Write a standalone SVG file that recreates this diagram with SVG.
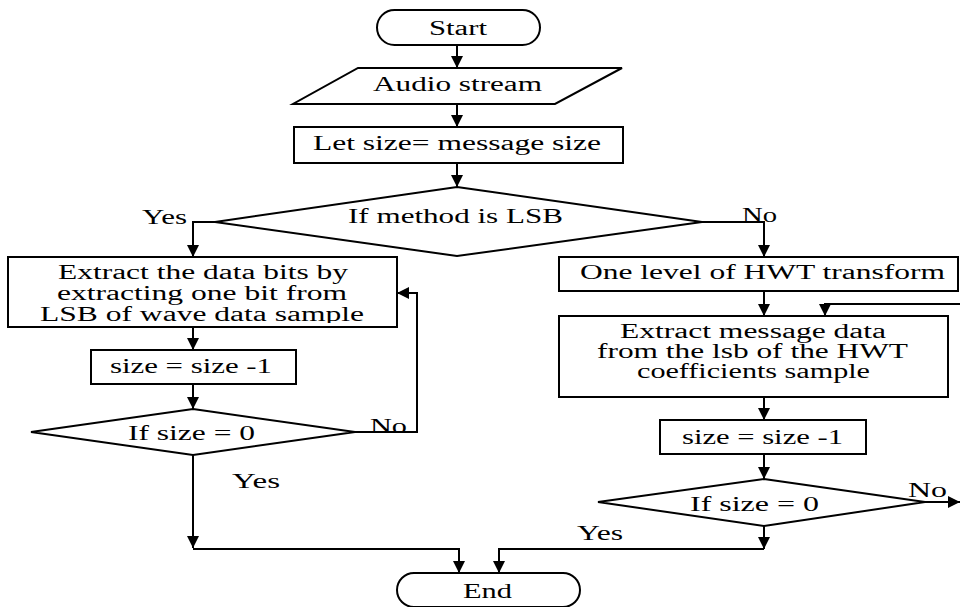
<svg xmlns="http://www.w3.org/2000/svg" width="960" height="607" viewBox="0 0 960 607">
<style>
.s{fill:#fff;stroke:#000;stroke-width:2}
.c{fill:none;stroke:#000;stroke-width:2}
.t{font-family:"Liberation Serif","Times New Roman",serif;font-size:20px;fill:#000}
</style>
<defs>
<marker id="ah" markerUnits="userSpaceOnUse" markerWidth="12" markerHeight="12" viewBox="0 0 10 10" refX="10" refY="5" orient="auto">
<path d="M0,0 L10,5 L0,10 z" fill="#000"/>
</marker>
<clipPath id="clipL"><rect x="0" y="250" width="400" height="73"/></clipPath>
</defs>
<rect width="960" height="607" fill="#fff"/>
<g id="connectors">
<path class="c" d="M457,45 L457,68" marker-end="url(#ah)"/>
<path class="c" d="M457,104 L457,127" marker-end="url(#ah)"/>
<path class="c" d="M457,163 L457,187" marker-end="url(#ah)"/>
<path class="c" d="M215,222 L193,222 L193,257" marker-end="url(#ah)"/>
<path class="c" d="M702,222 L764,222 L764,257" marker-end="url(#ah)"/>
<path class="c" d="M193,327 L193,350" marker-end="url(#ah)"/>
<path class="c" d="M193,384 L193,409" marker-end="url(#ah)"/>
<path class="c" d="M355,432 L417,432 L417,293 L397,293" marker-end="url(#ah)"/>
<path class="c" d="M193,455 L193,548" marker-end="url(#ah)"/>
<path class="c" d="M193,549 L459,549 L459,573" marker-end="url(#ah)"/>
<path class="c" d="M764,291 L764,316" marker-end="url(#ah)"/>
<path class="c" d="M960,304 L825,304 L825,316" marker-end="url(#ah)"/>
<path class="c" d="M764,397 L764,420" marker-end="url(#ah)"/>
<path class="c" d="M764,454 L764,479" marker-end="url(#ah)"/>
<path class="c" d="M925,502 L960,502" marker-end="url(#ah)"/>
<path class="c" d="M764,526 L764,549" marker-end="url(#ah)"/>
<path class="c" d="M764,549 L499,549 L499,573" marker-end="url(#ah)"/>
<text class="t" x="142" y="224" textLength="45" lengthAdjust="spacingAndGlyphs">Yes</text>
<text class="t" x="742" y="222" textLength="35" lengthAdjust="spacingAndGlyphs">No</text>
<text class="t" x="370" y="433" textLength="37" lengthAdjust="spacingAndGlyphs">No</text>
<text class="t" x="232" y="488" textLength="48" lengthAdjust="spacingAndGlyphs">Yes</text>
<text class="t" x="908" y="497" textLength="39" lengthAdjust="spacingAndGlyphs">No</text>
<text class="t" x="577" y="540" textLength="46" lengthAdjust="spacingAndGlyphs">Yes</text>
</g>
<g id="start">
<rect class="s" x="377" y="10" width="163" height="35" rx="17.5" ry="17.5"/>
<text class="t" x="429" y="35" textLength="58" lengthAdjust="spacingAndGlyphs">Start</text>
</g>
<g id="audio">
<polygon class="s" points="358,68 622,68 555,104 293,104"/>
<text class="t" x="373" y="91" textLength="169" lengthAdjust="spacingAndGlyphs">Audio stream</text>
</g>
<g id="letsize">
<rect class="s" x="294" y="127" width="329" height="36"/>
<text class="t" x="313" y="150" textLength="288" lengthAdjust="spacingAndGlyphs">Let size= message size</text>
</g>
<g id="method">
<polygon class="s" points="457,187 702,222 457,256 215,222"/>
<text class="t" x="348" y="223" textLength="215" lengthAdjust="spacingAndGlyphs">If method is LSB</text>
</g>
<g id="extractLSB">
<rect class="s" x="8" y="257" width="389" height="70"/>
<text class="t" x="58" y="279" textLength="290" lengthAdjust="spacingAndGlyphs">Extract the data bits by</text>
<text class="t" x="57" y="300" textLength="290" lengthAdjust="spacingAndGlyphs">extracting one bit from</text>
<text class="t" x="40" y="321" textLength="324" lengthAdjust="spacingAndGlyphs" clip-path="url(#clipL)">LSB of wave data sample</text>
</g>
<g id="dec1">
<rect class="s" x="91" y="350" width="205" height="34"/>
<text class="t" x="110" y="373" textLength="162" lengthAdjust="spacingAndGlyphs">size = size -1</text>
</g>
<g id="check1">
<polygon class="s" points="193,409 355,432 193,455 31,432"/>
<text class="t" x="128" y="440" textLength="127" lengthAdjust="spacingAndGlyphs">If size = 0</text>
</g>
<g id="hwt">
<rect class="s" x="559" y="257" width="399" height="34"/>
<text class="t" x="580" y="279" textLength="365" lengthAdjust="spacingAndGlyphs">One level of HWT transform</text>
</g>
<g id="extractHWT">
<rect class="s" x="559" y="316" width="389" height="81"/>
<text class="t" x="620" y="338" textLength="266" lengthAdjust="spacingAndGlyphs">Extract message data</text>
<text class="t" x="597" y="358" textLength="311" lengthAdjust="spacingAndGlyphs">from the lsb of the HWT</text>
<text class="t" x="637" y="378" textLength="233" lengthAdjust="spacingAndGlyphs">coefficients sample</text>
</g>
<g id="dec2">
<rect class="s" x="660" y="420" width="206" height="34"/>
<text class="t" x="682" y="444" textLength="161" lengthAdjust="spacingAndGlyphs">size = size -1</text>
</g>
<g id="check2">
<polygon class="s" points="764,479 925,502 764,526 598,502"/>
<text class="t" x="690" y="511" textLength="129" lengthAdjust="spacingAndGlyphs">If size = 0</text>
</g>
<g id="end">
<rect class="s" x="397" y="573" width="183" height="34" rx="17" ry="17"/>
<text class="t" x="463" y="598" textLength="49" lengthAdjust="spacingAndGlyphs">End</text>
</g>
</svg>
